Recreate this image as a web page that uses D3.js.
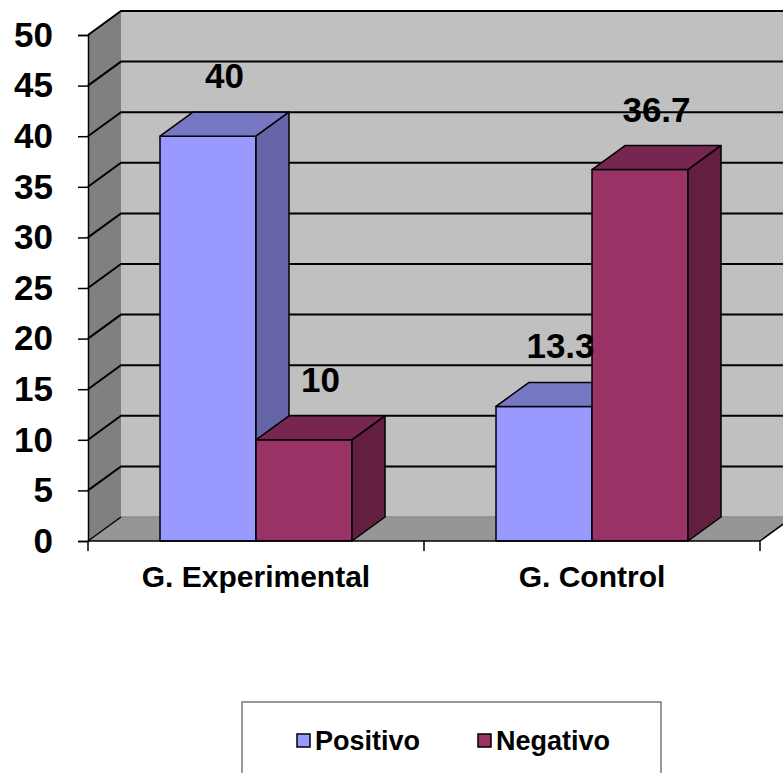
<!DOCTYPE html>
<html>
<head>
<meta charset="utf-8">
<script src="https://cdn.jsdelivr.net/npm/d3@7"></script>
<style>
  html, body { margin: 0; padding: 0; background: #fff; }
  svg { display: block; font-family: "Liberation Sans", Arial, sans-serif; font-weight: bold; }
</style>
</head>
<body>
<svg id="chart" width="783" height="773"></svg>
<script>
// Chart data
const categories = ["G. Experimental", "G. Control"];
const series = ["Positivo", "Negativo"];
const positivo = [40, 13.3];
const negativo = [10, 36.7];
const yTicks = [0, 5, 10, 15, 20, 25, 30, 35, 40, 45, 50];

const values = { Positivo: positivo, Negativo: negativo };
const faceColors = {
  Positivo: { front: "#9999FF", top: "#7777C4", side: "#6464A6" },
  Negativo: { front: "#993366", top: "#76264F", side: "#621F40" }
};

const svg = d3.select("#chart");

// Front plane geometry and depth offset of the 3D box
const plotLeft = 88, plotRight = 760, plotBottom = 541, plotTop = 35;
const dx = 33, dy = -24;

const y = d3.scaleLinear().domain([0, 50]).range([plotBottom, plotTop]);
const x = d3.scaleBand().domain(categories).range([plotLeft, plotRight]);
const bw = x.bandwidth();
// bars occupy 2/3.5 of each category, centred (gap width 150%)
const barW = bw / 3.5;
const x1 = d3.scaleBand().domain(series).range([barW * 0.75, barW * 2.75]);

const poly = pts => pts.map(p => p.join(",")).join(" ");

// Back wall
svg.append("polygon")
  .attr("points", poly([[plotLeft + dx, y(50) + dy], [plotRight + dx, y(50) + dy], [plotRight + dx, plotBottom + dy], [plotLeft + dx, plotBottom + dy]]))
  .attr("fill", "#C0C0C0");

// Left side wall
svg.append("polygon")
  .attr("points", poly([[plotLeft, plotBottom], [plotLeft, y(50)], [plotLeft + dx, y(50) + dy], [plotLeft + dx, plotBottom + dy]]))
  .attr("fill", "#808080");

// Floor
svg.append("polygon")
  .attr("points", poly([[plotLeft, plotBottom], [plotRight, plotBottom], [plotRight + dx, plotBottom + dy], [plotLeft + dx, plotBottom + dy]]))
  .attr("fill", "#969696");

// Gridlines on back and side walls
const grid = svg.append("g").attr("stroke", "#000").attr("stroke-width", 2).attr("fill", "none");
yTicks.filter(v => v > 0).forEach(v => {
  grid.append("path")
    .attr("d", `M${plotLeft},${y(v)} L${plotLeft + dx},${y(v) + dy} L${plotRight + dx},${y(v) + dy}`);
});
// floor back edge (lighter)
svg.append("line")
  .attr("x1", plotLeft + dx).attr("y1", plotBottom + dy).attr("x2", plotRight + dx).attr("y2", plotBottom + dy)
  .attr("stroke", "#8a8a8a").attr("stroke-width", 1.5);
// floor diagonal edges
svg.append("line")
  .attr("x1", plotLeft).attr("y1", plotBottom).attr("x2", plotLeft + dx).attr("y2", plotBottom + dy)
  .attr("stroke", "#000").attr("stroke-width", 1.5);
svg.append("line")
  .attr("x1", plotRight).attr("y1", plotBottom).attr("x2", plotRight + dx).attr("y2", plotBottom + dy)
  .attr("stroke", "#000").attr("stroke-width", 1.5);

// Bars, drawn left to right so each front face covers the previous side face
const bars = [];
categories.forEach((c, i) => {
  series.forEach(s => {
    bars.push({ cat: c, series: s, value: values[s][i] });
  });
});

const barG = svg.append("g").attr("stroke", "#000").attr("stroke-width", 1.5).attr("stroke-linejoin", "round");
bars.forEach(b => {
  const x0 = x(b.cat) + x1(b.series);
  const xR = x0 + x1.bandwidth();
  const yT = y(b.value);
  const col = faceColors[b.series];
  // front
  barG.append("polygon")
    .attr("points", poly([[x0, plotBottom], [x0, yT], [xR, yT], [xR, plotBottom]]))
    .attr("fill", col.front);
  // top
  barG.append("polygon")
    .attr("points", poly([[x0, yT], [x0 + dx, yT + dy], [xR + dx, yT + dy], [xR, yT]]))
    .attr("fill", col.top);
  // side
  barG.append("polygon")
    .attr("points", poly([[xR, yT], [xR + dx, yT + dy], [xR + dx, plotBottom + dy], [xR, plotBottom]]))
    .attr("fill", col.side);
});

// Value labels above each bar's top face
svg.append("g").selectAll("text").data(bars).join("text")
  .attr("x", b => x(b.cat) + x1(b.series) + x1.bandwidth() / 2 + dx / 2)
  .attr("y", b => y(b.value) + dy / 2 - 36)
  .attr("text-anchor", "middle")
  .attr("font-size", 35)
  .attr("fill", "#000")
  .text(b => b.value);

// Value axis
const yAxis = d3.axisLeft(y).tickValues(yTicks).tickSize(10).tickPadding(25).tickFormat(d3.format("d"));
const yAxisG = svg.append("g").attr("transform", `translate(${plotLeft},0)`).call(yAxis);
yAxisG.select(".domain").attr("stroke", "#000").attr("stroke-width", 1.5);
yAxisG.selectAll(".tick line").attr("stroke", "#000").attr("stroke-width", 1.5);
yAxisG.selectAll(".tick text")
  .attr("font-size", 35).attr("font-family", "Liberation Sans, Arial, sans-serif")
  .attr("font-weight", "bold").attr("fill", "#000");

// Category axis
svg.append("line")
  .attr("x1", plotLeft).attr("y1", plotBottom).attr("x2", plotRight).attr("y2", plotBottom)
  .attr("stroke", "#000").attr("stroke-width", 1.5);
const catEdges = categories.map(c => x(c)).concat([plotRight]);
svg.append("g").selectAll("line").data(catEdges).join("line")
  .attr("x1", d => d).attr("x2", d => d)
  .attr("y1", plotBottom).attr("y2", plotBottom + 10)
  .attr("stroke", "#000").attr("stroke-width", 1.5);
svg.append("g").selectAll("text").data(categories).join("text")
  .attr("x", c => x(c) + bw / 2)
  .attr("y", 587)
  .attr("text-anchor", "middle")
  .attr("font-size", 30)
  .attr("fill", "#000")
  .text(c => c);

// Legend
const legend = svg.append("g");
legend.append("rect")
  .attr("x", 242).attr("y", 702).attr("width", 419).attr("height", 100)
  .attr("fill", "#fff").attr("stroke", "#777").attr("stroke-width", 1.5);
const legendX = [297, 478];
series.forEach((s, i) => {
  legend.append("rect")
    .attr("x", legendX[i]).attr("y", 734).attr("width", 13).attr("height", 13)
    .attr("fill", faceColors[s].front).attr("stroke", "#000").attr("stroke-width", 1.5);
  legend.append("text")
    .attr("x", legendX[i] + 18).attr("y", 750)
    .attr("font-size", 27).attr("fill", "#000")
    .text(s);
});
</script>
</body>
</html>
